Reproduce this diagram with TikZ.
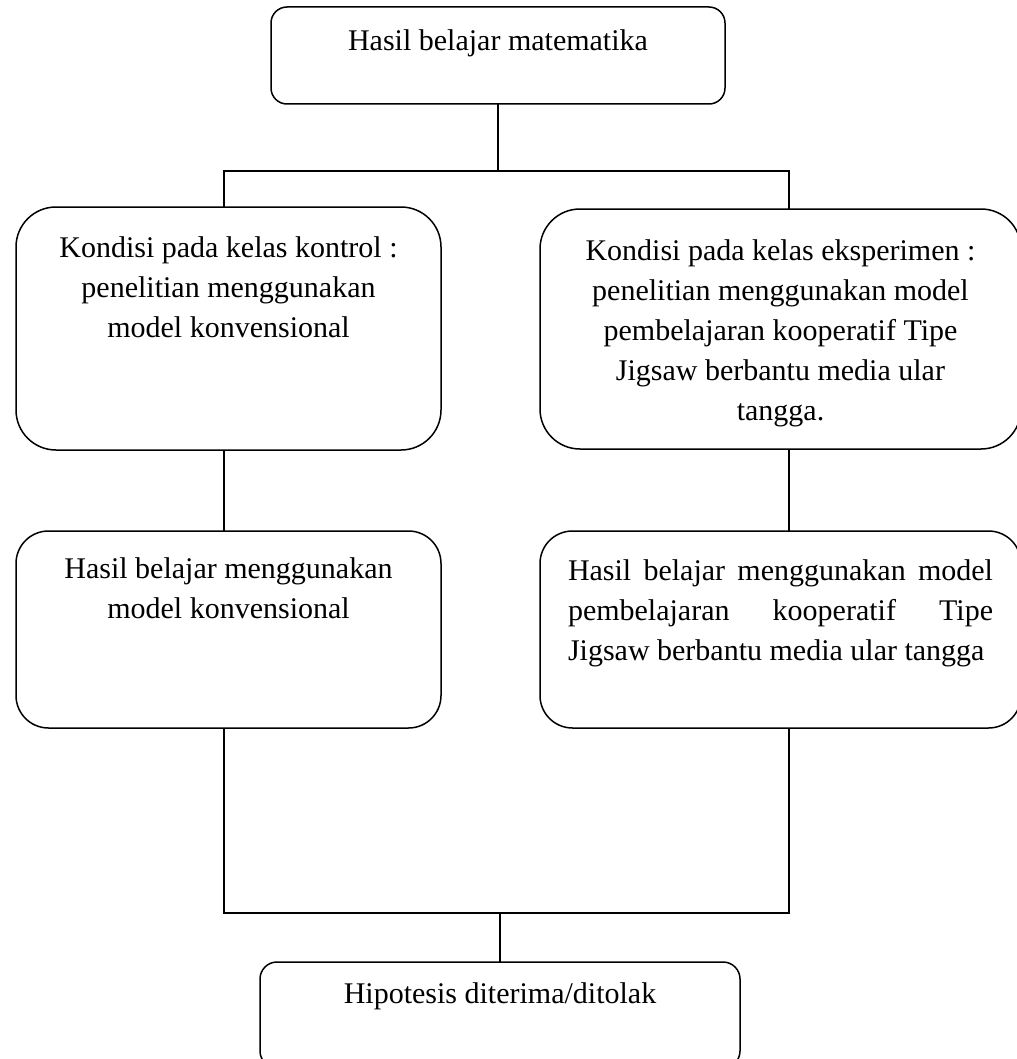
\documentclass[tikz,border=0pt]{standalone}
\usepackage{fontspec}
\setmainfont{Liberation Serif}
\newlength{\titik}
\setlength{\titik}{0.4pt}
\newcommand{\isikotak}[4]{\parbox[c][#2\titik][t]{#1\titik}{\centering\rule{0pt}{#3\titik}#4}}

\begin{document}
\begin{tikzpicture}[x=0.4pt, y=-0.4pt, line width=0.6pt,
    kotak/.style={draw, rounded corners=#1, anchor=north west, inner sep=0pt, outer sep=0pt,
      font=\fontsize{12}{16}\selectfont},
    kotak/.default=16pt]
      \useasboundingbox (0,0) rectangle (1016,1059);

      \node[kotak=6.4pt] (hasil) at (271,7) {\isikotak{454}{97}{44}{Hasil belajar matematika}};

      \node[kotak] (kontrol) at (16,207) {\isikotak{425}{243}{50}{Kondisi pada kelas kontrol :\\
        penelitian menggunakan\\ model konvensional}};
      \node[kotak] (eksperimen) at (540,209) {\isikotak{481}{240}{51}{Kondisi pada kelas eksperimen :\\
        penelitian menggunakan model\\ pembelajaran kooperatif Tipe\\ Jigsaw berbantu media ular\\ tangga.}};

      \node[kotak=13pt] (hasilkontrol) at (16,531) {\isikotak{425}{197}{47}{Hasil belajar menggunakan\\
        model konvensional}};
      \node[kotak=13pt] (hasileksperimen) at (540,531) {\parbox[c][197\titik][t]{481\titik}{\hspace*{28\titik}%
        \parbox[t]{425\titik}{\rule{0pt}{49\titik}Hasil belajar menggunakan model\linebreak
        pembelajaran kooperatif Tipe\linebreak Jigsaw berbantu media ular tangga}}};

      \node[kotak=6.8pt] (hipotesis) at (260,962) {\isikotak{480}{106}{41}{Hipotesis diterima/ditolak}};

      \coordinate (cabang) at (498,171);
      \coordinate (kiri1) at (224,171);
      \coordinate (kanan1) at (789,171);
      \coordinate (kiri2) at (224,913);
      \coordinate (kanan2) at (789,913);

      \draw (hasil.south) -- (cabang);
      \draw (kiri1 |- kontrol.north) -- (kiri1) -- (kanan1) -- (kanan1 |- eksperimen.north);
      \draw (kiri1 |- kontrol.south) -- (kiri1 |- hasilkontrol.north);
      \draw (kanan1 |- eksperimen.south) -- (kanan1 |- hasileksperimen.north);
      \draw (kiri2 |- hasilkontrol.south) -- (kiri2) -- (kanan2) -- (kanan2 |- hasileksperimen.south);
      \draw (hipotesis.north) -- (hipotesis.north |- kiri2);
    \end{tikzpicture}
\end{document}
